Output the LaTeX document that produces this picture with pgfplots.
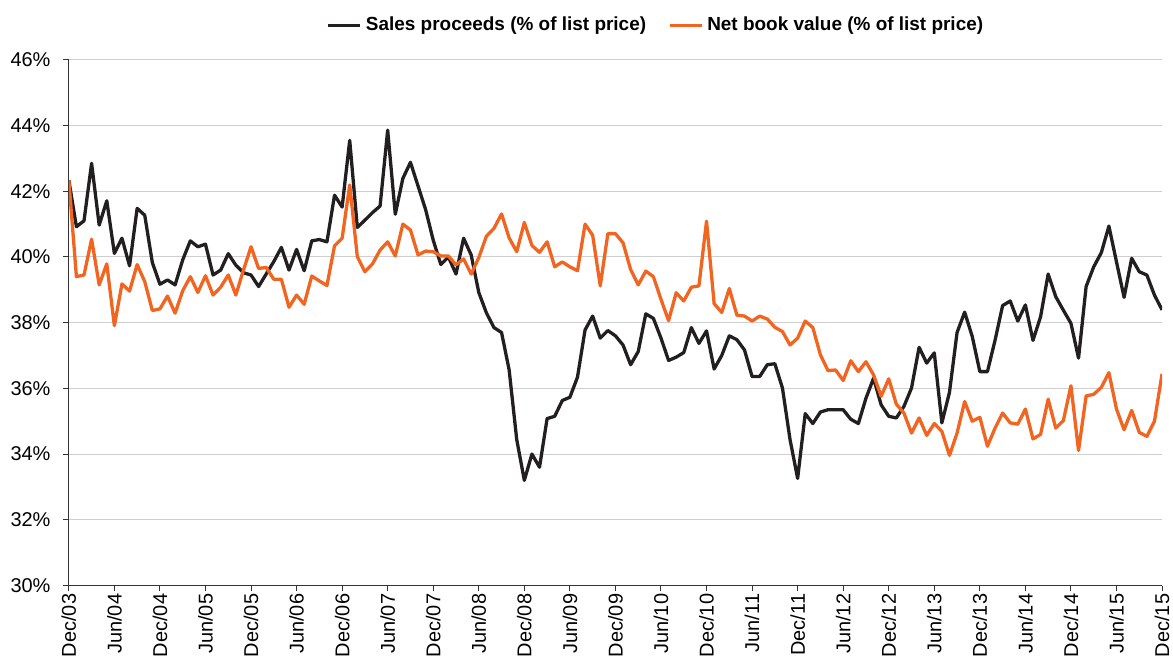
\documentclass[border=0pt]{standalone}
\usepackage{fontspec}
\setmainfont{Liberation Sans}
\usepackage{pgfplots}
\pgfplotsset{compat=1.18}
\definecolor{salesblk}{HTML}{231F20}
\definecolor{nbvorange}{HTML}{F16521}
\definecolor{gridgray}{HTML}{CFCFCF}
\begin{document}
\begin{tikzpicture}
\begin{axis}[
  name=ax,
  scale only axis,
  width=548pt, height=263.5pt,
  xmin=0, xmax=144, ymin=30, ymax=46,
  axis lines*=left,
  axis line style={black!80, line width=0.6pt},
  tick align=outside,
  major tick length=3pt,
  tick style={black!80, line width=0.5pt},
  xtick={0,6,...,144},
  xticklabels={Dec/03,Jun/04,Dec/04,Jun/05,Dec/05,Jun/06,Dec/06,Jun/07,Dec/07,Jun/08,Dec/08,Jun/09,Dec/09,Jun/10,Dec/10,Jun/11,Dec/11,Jun/12,Dec/12,Jun/13,Dec/13,Jun/14,Dec/14,Jun/15,Dec/15},
  xticklabel style={rotate=90, anchor=east, font=\fontsize{10}{12}\selectfont, inner sep=1pt},
  ytick={30,32,...,46},
  yticklabel={\pgfmathprintnumber{\tick}\%},
  yticklabel style={font=\fontsize{10}{12}\selectfont, inner sep=1pt, xshift=-5pt},
  /pgf/number format/assume math mode=true,
  ymajorgrids,
  grid style={gridgray, line width=0.5pt},
  legend columns=2,
  legend style={draw=none, fill=none, at={(0.538,1.066)}, anchor=center,
    font=\bfseries\fontsize{9.5}{11}\selectfont, inner sep=0pt,
    /tikz/every even column/.append style={column sep=9pt}},
  legend image code/.code={\draw[#1] (0pt,0pt) -- (16pt,0pt);},
  every axis plot/.append style={line width=1.65pt, line join=round},
]
\addplot[salesblk] coordinates {
(0,42.34)(1,40.92)(2,41.10)(3,42.85)(4,40.97)(5,41.71)(6,40.11)(7,40.57)(8,39.73)(9,41.48)
(10,41.27)(11,39.83)(12,39.17)(13,39.30)(14,39.15)(15,39.91)(16,40.49)(17,40.31)(18,40.39)(19,39.45)
(20,39.60)(21,40.10)(22,39.75)(23,39.52)(24,39.45)(25,39.10)(26,39.48)(27,39.86)(28,40.29)(29,39.60)
(30,40.23)(31,39.58)(32,40.49)(33,40.53)(34,40.46)(35,41.88)(36,41.52)(37,43.55)(38,40.90)(39,41.12)
(40,41.35)(41,41.55)(42,43.86)(43,41.30)(44,42.39)(45,42.88)(46,42.16)(47,41.44)(48,40.51)(49,39.77)
(50,40.00)(51,39.48)(52,40.57)(53,40.06)(54,38.92)(55,38.30)(56,37.85)(57,37.70)(58,36.56)(59,34.44)
(60,33.20)(61,34.00)(62,33.60)(63,35.08)(64,35.15)(65,35.63)(66,35.73)(67,36.34)(68,37.78)(69,38.20)
(70,37.53)(71,37.76)(72,37.60)(73,37.32)(74,36.72)(75,37.12)(76,38.27)(77,38.13)(78,37.53)(79,36.85)
(80,36.95)(81,37.09)(82,37.85)(83,37.37)(84,37.75)(85,36.59)(86,37.00)(87,37.60)(88,37.48)(89,37.17)
(90,36.36)(91,36.36)(92,36.72)(93,36.75)(94,36.01)(95,34.44)(96,33.26)(97,35.23)(98,34.93)(99,35.28)
(100,35.35)(101,35.35)(102,35.35)(103,35.06)(104,34.93)(105,35.70)(106,36.31)(107,35.50)(108,35.15)(109,35.10)
(110,35.45)(111,36.01)(112,37.25)(113,36.77)(114,37.08)(115,34.95)(116,35.88)(117,37.70)(118,38.32)(119,37.58)
(120,36.51)(121,36.51)(122,37.46)(123,38.52)(124,38.66)(125,38.05)(126,38.54)(127,37.46)(128,38.18)(129,39.48)
(130,38.79)(131,38.38)(132,37.98)(133,36.92)(134,39.10)(135,39.70)(136,40.13)(137,40.94)(138,39.85)(139,38.77)
(140,39.96)(141,39.55)(142,39.45)(143,38.84)(144,38.39)
};
\addlegendentry{Sales proceeds (\% of list price)}
\addplot[nbvorange] coordinates {
(0,42.34)(1,39.40)(2,39.45)(3,40.54)(4,39.15)(5,39.79)(6,37.91)(7,39.18)(8,38.96)(9,39.77)
(10,39.25)(11,38.37)(12,38.42)(13,38.81)(14,38.29)(15,38.97)(16,39.40)(17,38.92)(18,39.43)(19,38.84)
(20,39.08)(21,39.45)(22,38.84)(23,39.60)(24,40.31)(25,39.65)(26,39.68)(27,39.32)(28,39.32)(29,38.47)
(30,38.84)(31,38.56)(32,39.42)(33,39.27)(34,39.13)(35,40.34)(36,40.57)(37,42.19)(38,40.01)(39,39.55)
(40,39.79)(41,40.21)(42,40.46)(43,40.03)(44,41.00)(45,40.82)(46,40.06)(47,40.18)(48,40.16)(49,40.03)
(50,40.03)(51,39.76)(52,39.94)(53,39.48)(54,39.98)(55,40.63)(56,40.87)(57,41.31)(58,40.58)(59,40.16)
(60,41.05)(61,40.35)(62,40.14)(63,40.46)(64,39.70)(65,39.85)(66,39.70)(67,39.58)(68,41.00)(69,40.66)
(70,39.12)(71,40.71)(72,40.71)(73,40.43)(74,39.62)(75,39.15)(76,39.57)(77,39.40)(78,38.71)(79,38.06)
(80,38.91)(81,38.66)(82,39.08)(83,39.12)(84,41.09)(85,38.58)(86,38.31)(87,39.04)(88,38.23)(89,38.20)
(90,38.05)(91,38.20)(92,38.11)(93,37.86)(94,37.73)(95,37.32)(96,37.53)(97,38.05)(98,37.85)(99,37.02)
(100,36.54)(101,36.56)(102,36.24)(103,36.84)(104,36.51)(105,36.81)(106,36.41)(107,35.76)(108,36.29)(109,35.52)
(110,35.25)(111,34.64)(112,35.10)(113,34.57)(114,34.93)(115,34.69)(116,33.96)(117,34.64)(118,35.60)(119,35.00)
(120,35.12)(121,34.24)(122,34.79)(123,35.25)(124,34.95)(125,34.91)(126,35.37)(127,34.46)(128,34.60)(129,35.67)
(130,34.79)(131,35.02)(132,36.08)(133,34.11)(134,35.77)(135,35.82)(136,36.03)(137,36.48)(138,35.37)(139,34.74)
(140,35.33)(141,34.66)(142,34.54)(143,35.00)(144,36.44)
};
\addlegendentry{Net book value (\% of list price)}
\end{axis}
\pgfresetboundingbox
\path ([shift={(-34.5pt,-37.5pt)}]ax.south west) rectangle ([shift={(5.5pt,30pt)}]ax.north east);
\end{tikzpicture}
\end{document}
